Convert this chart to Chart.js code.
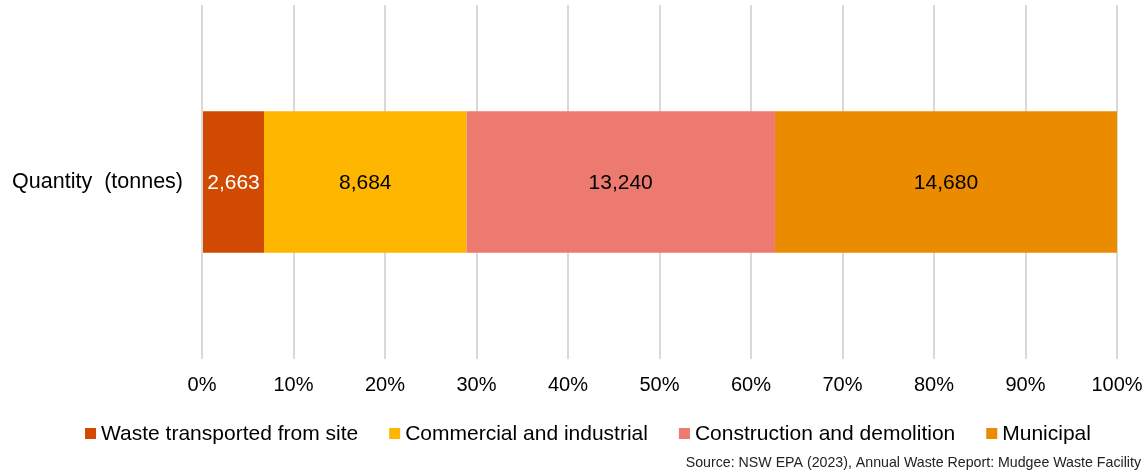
<!DOCTYPE html>
<html>
<head>
<meta charset="utf-8">
<script src="https://cdn.jsdelivr.net/npm/chart.js@4"></script>
<style>
  html, body { margin: 0; padding: 0; background: #fff; }
  #wrap { width: 1144px; height: 475px; }
</style>
</head>
<body>
<div id="wrap"><canvas id="chart"></canvas></div>
<script>
const categories = ['Quantity  (tonnes)'];
const seriesNames = ['Waste transported from site', 'Commercial and industrial', 'Construction and demolition', 'Municipal'];
const seriesValues = [2663, 8684, 13240, 14680];
const seriesColors = ['#D04A02', '#FFB600', '#EC7A70', '#EB8C00'];
const labelColors = ['#ffffff', '#000000', '#000000', '#000000'];
const tickValues = [0, 10, 20, 30, 40, 50, 60, 70, 80, 90, 100];

const FONT = "'Liberation Sans', Arial, sans-serif";
const total = seriesValues.reduce((a, b) => a + b, 0);

const datasets = seriesNames.map((name, i) => ({
    label: name,
    data: [seriesValues[i] / total * 100],
    raw: seriesValues[i],
    backgroundColor: seriesColors[i],
    borderWidth: 0,
    categoryPercentage: 1,
    barPercentage: 0.4
}));

// подписи значений в центре сегментов
const valueLabels = {
    id: 'valueLabels',
    afterDatasetsDraw(chart) {
        const ctx = chart.ctx;
        ctx.save();
        ctx.font = '21px ' + FONT;
        ctx.textAlign = 'center';
        ctx.textBaseline = 'middle';
        chart.data.datasets.forEach((ds, i) => {
            chart.getDatasetMeta(i).data.forEach(bar => {
                const x = (bar.x + bar.base) / 2;
                ctx.fillStyle = labelColors[i];
                ctx.fillText(ds.raw.toLocaleString('en-US'), x, bar.y + 1);
            });
        });
        ctx.restore();
    }
};

// легенда в стиле Excel: квадратик на базовой линии, узкий отступ до текста
const bottomLegend = {
    id: 'bottomLegend',
    afterDraw(chart) {
        const ctx = chart.ctx;
        const box = 11, gapText = 5, gapItem = 31, baseY = 440, centerX = 588;
        ctx.save();
        ctx.font = '21px ' + FONT;
        ctx.textBaseline = 'alphabetic';
        ctx.textAlign = 'left';
        const items = chart.data.datasets.map(ds => ({
            text: ds.label, color: ds.backgroundColor, w: ctx.measureText(ds.label).width
        }));
        const full = items.reduce((s, it) => s + box + gapText + it.w, 0) + gapItem * (items.length - 1);
        let x = centerX - full / 2;
        items.forEach(it => {
            ctx.fillStyle = it.color;
            ctx.fillRect(x, baseY - 1 - box, box, box);
            x += box + gapText;
            ctx.fillStyle = '#000';
            ctx.fillText(it.text, x, baseY);
            x += it.w + gapItem;
        });
        ctx.restore();
    }
};

Chart.defaults.font.family = FONT;
Chart.defaults.color = '#000';

new Chart(document.getElementById('chart'), {
    type: 'bar',
    data: { labels: categories, datasets },
    options: {
        indexAxis: 'y',
        responsive: true,
        maintainAspectRatio: false,
        animation: false,
        layout: { padding: { left: 6, right: 3, top: 5, bottom: 3 } },
        scales: {
            x: {
                stacked: true,
                min: 0,
                max: 100,
                afterBuildTicks: axis => { axis.ticks = tickValues.map(v => ({ value: v })); },
                ticks: { font: { size: 20 }, padding: 15, callback: v => v + '%' },
                grid: { color: '#d9d9d9', lineWidth: 2, drawTicks: false },
                border: { display: false },
                afterFit: axis => { axis.paddingLeft = 0; axis.paddingRight = 27; }
            },
            y: {
                stacked: true,
                ticks: { font: { size: 21.5 }, padding: 19 },
                grid: { display: false, drawTicks: false },
                border: { display: false },
                afterFit: axis => { axis.width = 196; axis.paddingTop = 0; axis.paddingBottom = 0; }
            }
        },
        plugins: {
            legend: { display: false },
            title: {
                display: true,
                position: 'bottom',
                align: 'end',
                text: 'Source: NSW EPA (2023), Annual Waste Report: Mudgee Waste Facility',
                font: { size: 14.2, weight: 'normal' },
                color: '#222',
                padding: { top: 42, bottom: 0 }
            },
            tooltip: { enabled: false }
        }
    },
    plugins: [valueLabels, bottomLegend]
});
</script>
</body>
</html>
